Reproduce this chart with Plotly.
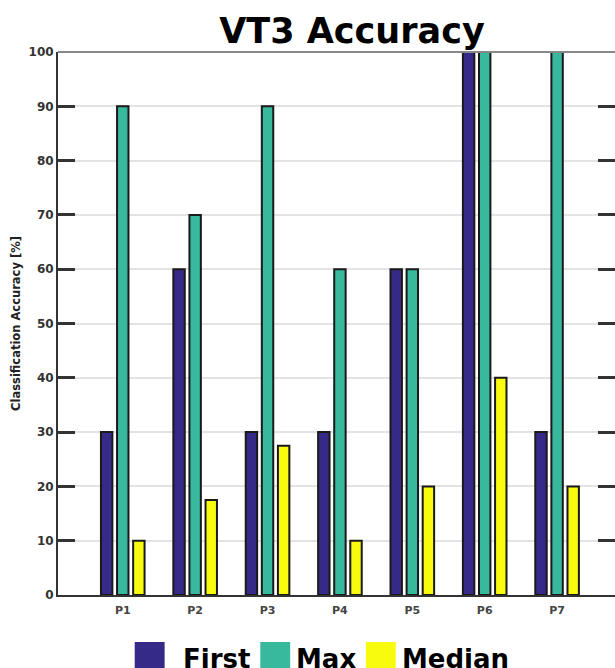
import plotly.graph_objects as go

categories = ["P1", "P2", "P3", "P4", "P5", "P6", "P7"]
series_names = ["First", "Max", "Median"]
first_vals = [30, 60, 30, 30, 60, 100, 30]
max_vals = [90, 70, 90, 60, 60, 100, 100]
median_vals = [10, 17.5, 27.5, 10, 20, 40, 20]
y_ticks = [0, 10, 20, 30, 40, 50, 60, 70, 80, 90, 100]

colors = ["#352a87", "#38b99e", "#f9fb0e"]
series_vals = [first_vals, max_vals, median_vals]

W, H = 617, 668
ML, MT, MB, MR = 58, 52, 73, 0
PW = W - ML - MR
PH = H - MT - MB

font_fam = "DejaVu Sans"

fig = go.Figure()
for name, vals, col in zip(series_names, series_vals, colors):
    fig.add_trace(go.Bar(
        x=categories, y=vals, name=name,
        marker=dict(color=col, line=dict(color="#1a1a1a", width=2)),
        showlegend=False,
    ))

def px_x(px):
    return (px - ML) / PW

def px_y(py):
    return (H - MB - py) / PH

# manual legend (large swatches): (swatch left px, text left px)
legend_items = [
    (135, 183),
    (261, 297),
    (367, 403),
]
shapes = []
annotations = []
for (sx, tx), name, col in zip(legend_items, series_names, colors):
    shapes.append(dict(type="rect", xref="paper", yref="paper",
                       x0=px_x(sx), x1=px_x(sx + 30), y0=px_y(642), y1=px_y(680),
                       fillcolor=col, line=dict(width=0), layer="above"))
    annotations.append(dict(xref="paper", yref="paper", x=px_x(tx - 2), y=px_y(659),
                            xanchor="left", yanchor="middle", showarrow=False,
                            text=name,
                            font=dict(family=font_fam, size=26, color="#000", weight="bold")))

# top border line
shapes.append(dict(type="line", xref="paper", yref="paper", x0=0, x1=1, y0=1, y1=1,
                   line=dict(color="#888888", width=2)))

fig.update_layout(
    width=W, height=H,
    margin=dict(l=ML, r=MR, t=MT, b=MB),
    paper_bgcolor="white", plot_bgcolor="white",
    barmode="group", bargap=0.333, bargroupgap=0.29,
    title=dict(text="<b>VT3 Accuracy</b>", xref="container", x=352 / W, xanchor="center",
               yref="container", y=1 - 31 / H, yanchor="middle",
               font=dict(family=font_fam, size=35, color="#000")),
    shapes=shapes, annotations=annotations,
    showlegend=False,
)
fig.update_xaxes(
    range=[-0.8946, 6.80], showgrid=False, showline=True, linecolor="#333", linewidth=2,
    ticks="", ticklabelstandoff=4,
    tickfont=dict(family=font_fam, size=11, color="#444", weight="bold"),
)
fig.update_yaxes(
    range=[0, 100], tickvals=y_ticks, showgrid=True, gridcolor="#e3e3e3", gridwidth=1.5,
    showline=True, linecolor="#333", linewidth=2, mirror="ticks",
    ticks="inside", ticklen=17, tickwidth=2.5, tickcolor="#333",
    tickfont=dict(family=font_fam, size=12, color="#333", weight="bold"),
    title=dict(text="Classification Accuracy [%]", standoff=6,
               font=dict(family=font_fam, size=11.5, color="#222", weight="bold")),
    zeroline=False,
)

fig.write_html("out.html", config={"displayModeBar": False},
               post_script="document.body.style.margin='0';document.body.style.overflow='hidden';")
